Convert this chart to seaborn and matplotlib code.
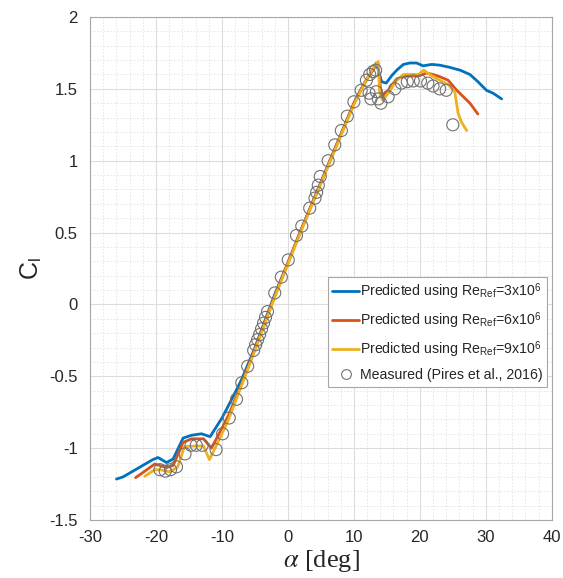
import numpy as np
import pandas as pd
import matplotlib
matplotlib.use("Agg")
import matplotlib.pyplot as plt
from matplotlib.lines import Line2D
from matplotlib.ticker import MultipleLocator
import seaborn as sns

# Lift coefficient predictions for three reference Reynolds numbers
alpha_re3 = [-26, -25, -23.5, -22, -20.5, -19.7, -18.4, -17.4, -15.9, -14.6, -13.1, -11.8,
             -10, -8.3, -7, -5, -2, 0, 2, 4, 6, 8, 10, 11, 12, 13, 13.4, 14.2, 14.9,
             15.7, 16.5, 17.5, 18.5, 19.5, 20.5, 21.8, 23.0, 24.5, 26.1, 27.6, 28.8,
             30.1, 31.1, 32.4]
cl_re3 = [-1.215, -1.20, -1.16, -1.12, -1.08, -1.065, -1.10, -1.075, -0.93, -0.91, -0.90,
          -0.92, -0.79, -0.64, -0.52, -0.30, 0.07, 0.29, 0.52, 0.74, 0.96, 1.18, 1.40,
          1.49, 1.57, 1.64, 1.68, 1.55, 1.54, 1.59, 1.63, 1.67, 1.68, 1.68, 1.66, 1.67,
          1.665, 1.65, 1.63, 1.60, 1.55, 1.49, 1.47, 1.43]

alpha_re6 = [-23.1, -22, -20.2, -18.4, -17.4, -15.9, -14.6, -12.8, -11.6, -10, -9, -8, -7,
             -5, -2, 0, 2, 4, 6, 8, 10, 11, 12, 13, 13.6, 14.2, 15.2, 16.5, 17.5, 18.5,
             19.8, 21.0, 22.0, 23.0, 24.3, 25.6, 26.6, 27.6, 28.8]
cl_re6 = [-1.205, -1.17, -1.11, -1.135, -1.12, -0.96, -0.935, -0.935, -1.00, -0.86, -0.77,
          -0.66, -0.55, -0.31, 0.06, 0.29, 0.52, 0.74, 0.96, 1.18, 1.40, 1.49, 1.57,
          1.64, 1.68, 1.445, 1.49, 1.57, 1.585, 1.59, 1.59, 1.61, 1.60, 1.585, 1.56,
          1.49, 1.445, 1.40, 1.325]

alpha_re9 = [-21.7, -20.2, -19.4, -17.9, -16.7, -15.7, -14.2, -12.8, -11.9, -10, -9, -8,
             -7, -5, -2, 0, 2, 4, 6, 8, 10, 11, 12, 13, 13.7, 13.9, 14.4, 15.5, 16.5,
             17.5, 18.5, 19.8, 20.6, 21.5, 23.0, 24.3, 25.3, 25.8, 26.3, 27.1]
cl_re9 = [-1.195, -1.15, -1.15, -1.165, -1.13, -0.99, -0.985, -0.985, -1.08, -0.90, -0.80,
          -0.68, -0.56, -0.32, 0.05, 0.28, 0.51, 0.73, 0.95, 1.17, 1.39, 1.48, 1.57,
          1.65, 1.69, 1.47, 1.42, 1.49, 1.56, 1.60, 1.60, 1.60, 1.63, 1.60, 1.56, 1.53,
          1.48, 1.33, 1.27, 1.21]

# Wind tunnel measurements
alpha_meas = [-19.4, -18.6, -17.8, -16.9, -15.6, -14.7, -13.9, -13.0, -10.9, -9.9, -8.9,
              -7.8, -7.0, -6.1, -5.2, -4.9, -4.6, -4.3, -4.0, -3.7, -3.4, -3.1, -2.0,
              -1.0, 0.05, 1.3, 2.1, 3.3, 4.1, 4.35, 4.6, 4.9, 6.1, 7.1, 8.1, 9.0, 10.0,
              11.1, 11.9, 12.4, 12.9, 13.3, 12.3, 12.6, 13.4, 13.7, 14.1, 15.2, 16.2,
              17.2, 18.1, 19.0, 20.1, 21.2, 22.0, 23.0, 24.0, 25.0]
cl_meas = [-1.15, -1.16, -1.15, -1.13, -1.04, -0.98, -0.98, -0.98, -1.01, -0.90, -0.79,
           -0.66, -0.545, -0.43, -0.32, -0.28, -0.245, -0.21, -0.17, -0.13, -0.09, -0.05,
           0.08, 0.19, 0.31, 0.48, 0.545, 0.67, 0.74, 0.78, 0.83, 0.89, 1.00, 1.11, 1.21,
           1.31, 1.41, 1.49, 1.56, 1.60, 1.62, 1.63, 1.47, 1.43, 1.48, 1.43, 1.40, 1.445,
           1.50, 1.54, 1.55, 1.555, 1.555, 1.54, 1.52, 1.50, 1.49, 1.25]

labels = [r"Predicted using Re$_{\mathregular{Ref}}$=3x10$^{\mathregular{6}}$",
          r"Predicted using Re$_{\mathregular{Ref}}$=6x10$^{\mathregular{6}}$",
          r"Predicted using Re$_{\mathregular{Ref}}$=9x10$^{\mathregular{6}}$"]
colors = ["#0072BD", "#D95319", "#EDB120"]
meas_label = "Measured (Pires et al., 2016)"

sns.set_style("white")
plt.rcParams["font.family"] = ["Liberation Sans", "DejaVu Sans"]
plt.rcParams["mathtext.fontset"] = "stix"

pred = pd.concat([
    pd.DataFrame({"alpha": a, "cl": c, "series": lab, "order": range(len(a))})
    for a, c, lab in zip([alpha_re3, alpha_re6, alpha_re9],
                         [cl_re3, cl_re6, cl_re9], labels)
], ignore_index=True)
meas = pd.DataFrame({"alpha": alpha_meas, "cl": cl_meas})

fig = plt.figure(figsize=(5.63, 5.78), dpi=100)
ax = fig.add_axes([0.160, 0.1003, 0.820, 0.8703])

sns.lineplot(data=pred, x="alpha", y="cl", hue="series", palette=colors,
             hue_order=labels, sort=False, estimator=None, units="series",
             linewidth=2.0, ax=ax, legend=False, zorder=3)
sns.scatterplot(data=meas, x="alpha", y="cl", marker="o", s=75,
                facecolor="none", edgecolor="#707070", linewidth=0.8,
                ax=ax, legend=False, zorder=4)

ax.set_xlim(-30, 40)
ax.set_ylim(-1.5, 2)
ax.xaxis.set_major_locator(MultipleLocator(10))
ax.yaxis.set_major_locator(MultipleLocator(0.5))
ax.xaxis.set_minor_locator(MultipleLocator(2))
ax.yaxis.set_minor_locator(MultipleLocator(0.1))
ax.set_xticklabels([f"{v:g}" for v in ax.get_xticks()])
ax.set_yticklabels([f"{v:g}" for v in ax.get_yticks()])
ax.grid(which="major", color="#dcdcdc", linewidth=0.8, linestyle="-")
ax.grid(which="minor", color="#e3e3e3", linewidth=0.6, linestyle=(0, (2, 2)))
ax.set_axisbelow(True)
ax.tick_params(which="both", length=0, labelsize=12, colors="#262626")
ax.tick_params(axis="x", pad=7)
ax.tick_params(axis="y", pad=9)
for sp in ax.spines.values():
    sp.set_color("#a6a6a6")
    sp.set_linewidth(0.8)

ax.set_xlabel(r"$\alpha$ [deg]", fontsize=19, family="Liberation Serif",
              color="#262626", labelpad=2)
ax.set_ylabel(r"C$_{\mathregular{l}}$", fontsize=18, color="#262626", labelpad=4)

handles = [Line2D([], [], color=c, linewidth=2.0) for c in colors]
handles.append(Line2D([], [], linestyle="none", marker="o", markersize=7,
                      markerfacecolor="none", markeredgecolor="#707070",
                      markeredgewidth=0.8))
leg = ax.legend(handles, labels + [meas_label], loc="upper left",
                bbox_to_anchor=(0.515, 0.483), fontsize=10.2, frameon=True,
                fancybox=False, framealpha=1, edgecolor="#a6a6a6",
                handlelength=1.9, handletextpad=0.05, borderpad=0.3,
                labelspacing=0.58, borderaxespad=0)
leg.get_frame().set_linewidth(0.8)

fig.savefig("out.png", dpi=100)
